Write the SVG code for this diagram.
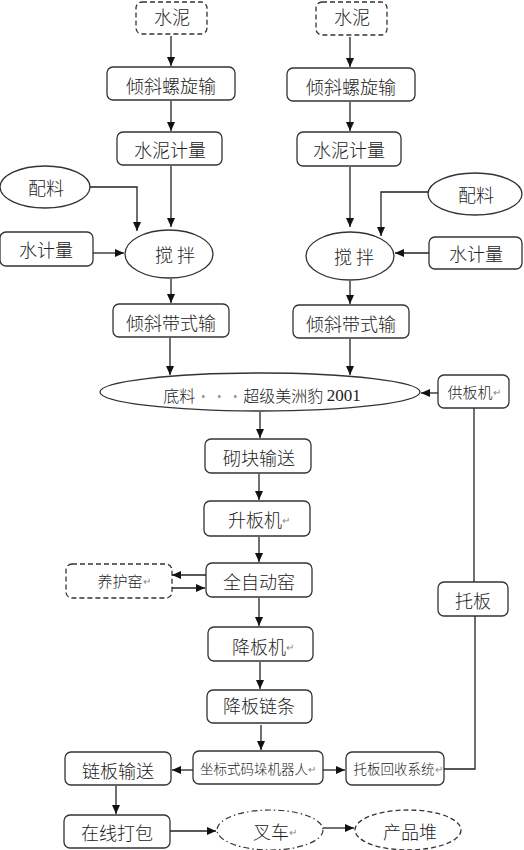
<svg xmlns="http://www.w3.org/2000/svg" width="524" height="850" viewBox="0 0 524 850">
<style>
.b{fill:#fff;stroke:#333;stroke-width:1.3}
.d{fill:#fff;stroke:#333;stroke-width:1.3;stroke-dasharray:5,3}
.dd{fill:#fff;stroke:#333;stroke-width:1.2;stroke-dasharray:6,3,1.5,3}
.t{font-family:"Noto Sans CJK SC","Noto Sans",sans-serif;font-weight:300;font-size:18px;fill:#222;text-anchor:middle;dominant-baseline:central}
.s{font-size:15px}
.xs{font-size:13.5px}
.r{font-size:10px;fill:#888}
.c path,.c polyline,.c line{fill:none;stroke:#222;stroke-width:1.3}
</style>
<defs>
<marker id="a" markerUnits="userSpaceOnUse" markerWidth="10" markerHeight="9" refX="9" refY="4" orient="auto">
<path d="M0,0 L9,4 L0,8 z" fill="#111"/>
</marker>
</defs>

<g id="cement-l"><rect class="d" x="136" y="2" width="71" height="32" rx="6"/><text class="t" x="172" y="16">水泥</text></g>
<g id="cement-r"><rect class="d" x="316" y="2" width="71" height="33" rx="6"/><text class="t" x="352" y="16">水泥</text></g>
<g id="screw-l"><rect class="b" x="107" y="67" width="128" height="33" rx="6"/><text class="t" x="171" y="85">倾斜螺旋输</text></g>
<g id="screw-r"><rect class="b" x="287" y="68" width="128" height="33" rx="6"/><text class="t" x="351" y="86">倾斜螺旋输</text></g>
<g id="cmeter-l"><rect class="b" x="117" y="132" width="105" height="33" rx="6"/><text class="t" x="170" y="149">水泥计量</text></g>
<g id="cmeter-r"><rect class="b" x="297" y="132" width="104" height="34" rx="6"/><text class="t" x="349" y="149">水泥计量</text></g>
<g id="mix-mat-l"><ellipse class="b" cx="45" cy="187" rx="45" ry="21"/><text class="t" x="46" y="187">配料</text></g>
<g id="mix-mat-r"><ellipse class="b" cx="475" cy="194" rx="47" ry="21"/><text class="t" x="476" y="194">配料</text></g>
<g id="water-l"><rect class="b" x="0" y="232" width="93" height="34" rx="6"/><text class="t" x="46" y="249">水计量</text></g>
<g id="water-r"><rect class="b" x="429" y="237" width="93" height="32" rx="6"/><text class="t" x="476" y="253">水计量</text></g>
<g id="stir-l"><ellipse class="b" cx="169" cy="254" rx="44" ry="24"/><text class="t" x="175" y="254">搅 拌</text></g>
<g id="stir-r"><ellipse class="b" cx="350" cy="256" rx="44" ry="24"/><text class="t" x="354" y="256">搅 拌</text></g>
<g id="belt-l"><rect class="b" x="113" y="304" width="116" height="33" rx="6"/><text class="t" x="171" y="322">倾斜带式输</text></g>
<g id="belt-r"><rect class="b" x="293" y="305" width="116" height="33" rx="6"/><text class="t" x="351" y="323">倾斜带式输</text></g>
<g id="machine"><ellipse class="b" cx="260" cy="392" rx="160" ry="19"/><text class="t" x="262" y="395" style="font-size:16px">底料<tspan fill="#999">···</tspan>超级美洲豹 <tspan style="font-family:'Liberation Serif',serif;font-size:17px">2001</tspan></text></g>
<g id="pallet-feed"><rect class="b" x="438" y="375" width="71" height="33" rx="6"/><text class="t s" x="474" y="391">供板机<tspan class="r">↵</tspan></text></g>
<g id="block-conv"><rect class="b" x="205" y="439" width="106" height="34" rx="6"/><text class="t" x="259" y="457">砌块输送</text></g>
<g id="lift"><rect class="b" x="204" y="501" width="106" height="35" rx="6"/><text class="t" x="259" y="519">升板机<tspan class="r">↵</tspan></text></g>
<g id="kiln"><rect class="b" x="206" y="563" width="106" height="34" rx="6"/><text class="t" x="259" y="581">全自动窑</text></g>
<g id="cure"><rect class="d" x="66" y="564" width="106" height="34" rx="6"/><text class="t s" x="124" y="580">养护窑<tspan class="r">↵</tspan></text></g>
<g id="pallet"><rect class="b" x="438" y="582" width="70" height="34" rx="6"/><text class="t" x="473" y="600">托板</text></g>
<g id="lower"><rect class="b" x="208" y="627" width="105" height="34" rx="6"/><text class="t" x="263" y="646">降板机<tspan class="r">↵</tspan></text></g>
<g id="chain"><rect class="b" x="207" y="690" width="105" height="33" rx="6"/><text class="t" x="259" y="705">降板链条</text></g>
<g id="robot"><rect class="b" x="193" y="751" width="130" height="33" rx="6"/><text class="t xs" x="258" y="768">坐标式码垛机器人<tspan class="r">↵</tspan></text></g>
<g id="chain-conv"><rect class="b" x="65" y="752" width="106" height="33" rx="6"/><text class="t" x="118" y="770">链板输送</text></g>
<g id="recycle"><rect class="b" x="346" y="752" width="98" height="33" rx="6"/><text class="t xs" x="398" y="768">托板回收系统<tspan class="r">↵</tspan></text></g>
<g id="pack"><rect class="b" x="64" y="815" width="106" height="33" rx="6"/><text class="t" x="117" y="832">在线打包</text></g>
<g id="forklift"><ellipse class="dd" cx="270" cy="830" rx="53" ry="20"/><text class="t" x="275" y="831">叉车<tspan class="r">↵</tspan></text></g>
<g id="stack"><ellipse class="d" cx="408" cy="830" rx="53" ry="20"/><text class="t" x="410" y="831">产品堆</text></g>

<g id="connectors" class="c">
<line x1="171" y1="36" x2="171" y2="66" marker-end="url(#a)"/>
<line x1="350" y1="37" x2="350" y2="67" marker-end="url(#a)"/>
<line x1="171" y1="101" x2="171" y2="131" marker-end="url(#a)"/>
<line x1="350" y1="102" x2="350" y2="131" marker-end="url(#a)"/>
<line x1="171" y1="166" x2="171" y2="227" marker-end="url(#a)"/>
<polyline points="90,187 137,187 137,231" marker-end="url(#a)"/>
<line x1="93" y1="253" x2="124" y2="253" marker-end="url(#a)"/>
<line x1="350" y1="167" x2="350" y2="227" marker-end="url(#a)"/>
<polyline points="428,192 381,192 381,236" marker-end="url(#a)"/>
<line x1="429" y1="253" x2="395" y2="253" marker-end="url(#a)"/>
<line x1="171" y1="279" x2="171" y2="303" marker-end="url(#a)"/>
<line x1="350" y1="281" x2="350" y2="304" marker-end="url(#a)"/>
<line x1="170" y1="338" x2="170" y2="375" marker-end="url(#a)"/>
<line x1="350" y1="339" x2="350" y2="375" marker-end="url(#a)"/>
<line x1="438" y1="393" x2="421" y2="393" marker-end="url(#a)"/>
<line x1="474" y1="408" x2="474" y2="582"/>
<line x1="260" y1="412" x2="260" y2="438" marker-end="url(#a)"/>
<line x1="259" y1="474" x2="259" y2="500" marker-end="url(#a)"/>
<line x1="259" y1="537" x2="259" y2="562" marker-end="url(#a)"/>
<line x1="206" y1="575" x2="172" y2="575" marker-end="url(#a)"/>
<line x1="172" y1="588" x2="205" y2="588" marker-end="url(#a)"/>
<line x1="259" y1="598" x2="259" y2="626" marker-end="url(#a)"/>
<line x1="260" y1="662" x2="260" y2="689" marker-end="url(#a)"/>
<line x1="261" y1="725" x2="261" y2="750" marker-end="url(#a)"/>
<line x1="193" y1="770" x2="172" y2="770" marker-end="url(#a)"/>
<line x1="323" y1="770" x2="345" y2="770" marker-end="url(#a)"/>
<polyline points="444,769 475,769 475,616"/>
<line x1="116" y1="786" x2="116" y2="814" marker-end="url(#a)"/>
<line x1="170" y1="831" x2="216" y2="831" marker-end="url(#a)"/>
<line x1="323" y1="828" x2="354" y2="828" marker-end="url(#a)"/>
</g>
</svg>
